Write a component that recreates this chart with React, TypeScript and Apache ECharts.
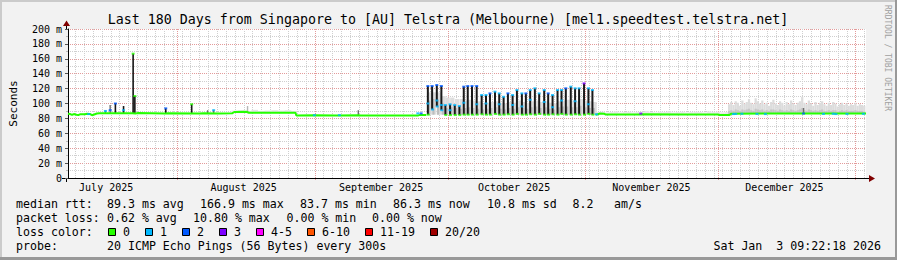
import React, { useEffect, useRef } from 'react';
import * as echarts from 'echarts';

const FONT = "'DejaVu Sans Mono', monospace";

// x axis: days since 2025-07-01 00:00 local time
const axisStartDay = 6.39;
const axisEndDay = 186.39;
const monthLabelDays = [15, 46, 77, 107, 138, 168];
const monthLabels = ['July 2025', 'August 2025', 'September 2025', 'October 2025', 'November 2025', 'December 2025'];
const monthStartDays = [31, 62, 92, 123, 153, 184];

const lossColors = ['#26ff00', '#00b8ff', '#0059ff', '#7e00ff', '#ff00ff', '#ff5500', '#ff0000', '#a00000'];
const lossLabels = ['0', '1', '2', '3', '4-5', '6-10', '11-19', '20/20'];

// median rtt (ms), loss 0 segments
const medianJulSep = [
  [6.39, 86.2], [6.9, 85.8], [7.3, 84.6], [7.7, 85.9], [8.3, 84.8], [8.7, 84.4], [9.2, 85.7], [10.2, 85.6],
  [10.7, 86.2], [11.3, 86.0], [11.8, 84.3], [12.3, 85.2], [12.9, 86.6], [13.5, 87.0], [20.9, 87.0], [21.6, 86.6],
  [22.2, 87.1], [28.3, 86.6], [29.0, 87.0], [36.0, 86.6], [37.0, 86.8], [40.5, 86.5], [43.4, 86.8], [43.9, 88.6],
  [46.6, 88.9], [47.2, 87.6], [57.7, 87.6], [57.9, 84.0], [62.0, 84.1], [67.0, 83.8], [72.0, 84.3], [72.4, 83.8],
  [80.0, 84.0], [85.4, 84.0], [85.8, 84.8], [86.3, 84.6], [87.2, 84.5],
];
const medianNovDec = [
  [125.4, 84.8], [125.9, 85.6], [126.4, 86.6], [127.3, 86.4], [127.6, 85.4], [135.4, 85.3], [135.8, 85.6],
  [145.0, 85.4], [153.0, 85.3], [153.4, 84.6], [155.6, 84.6], [156.0, 86.4], [165.0, 86.6], [175.0, 86.5], [186.39, 86.6],
];

// daily oscillation late Sep - late Oct
const octDays = [87.56, 88.52, 89.58, 90.61, 91.51, 92.57, 93.63, 94.67, 95.66, 96.56, 97.52, 98.58, 99.7, 100.67,
  101.57, 102.7, 103.66, 104.65, 105.62, 106.68, 107.65, 108.77, 109.67, 110.64, 111.7, 112.67, 113.8, 114.7,
  115.69, 116.81, 117.71, 118.68, 119.8, 120.77, 121.67, 122.79, 123.78, 124.68];
const octPeak = [123.5, 123.5, 124.8, 123.5, 98, 98.9, 98, 96.6, 122.6, 123.5, 123.5, 123.5, 111.4, 111.4, 113.6,
  115.9, 113.6, 109, 113.6, 111.4, 118.1, 113.6, 113.6, 118.1, 120.4, 113.6, 118.1, 113.6, 111.4, 118.1, 118.1,
  120.4, 122.6, 120.4, 120.4, 127, 120.4, 118.1];
const octLow = [85, 92, 96, 91, 84.5, 84.5, 84.5, 84.5, 85, 85, 85, 85, 85.5, 85, 85, 86, 85, 85, 85.5, 85, 86, 85,
  85, 85.5, 85, 86, 85, 85, 85.5, 85, 86, 85, 85, 85.5, 85, 85, 86, 85];
const octPeakLoss = [2, 2, 2, 2, 1, 1, 1, 1, 2, 2, 2, 2, 1, 1, 2, 1, 1, 1, 2, 1, 1, 1, 2, 1, 1, 1, 1, 2, 1, 1, 1, 2,
  1, 1, 1, 3, 1, 1];
// mid-stroke samples with 1 lost ping (0 = none)
const octMid = [100, 0, 104, 98, 0, 91, 0, 0, 101, 0, 0, 99, 0, 100, 0, 0, 99, 0, 0, 98, 0, 96, 0, 105, 0, 0, 102,
  0, 95, 0, 104, 0, 0, 103, 0, 0, 99, 0];
const octSmokeTop = [115, 115, 115, 110, 108, 108, 106, 106, 104, 105, 104, 103, 100, 101, 102, 103, 101, 100, 102,
  101, 104, 102, 101, 103, 104, 102, 103, 101, 100, 103, 104, 105, 104, 103, 106, 104, 103, 102];
const octSmokeCore = [104, 106, 105, 100, 94, 95, 94, 93, 94, 95, 94, 93, 92, 93, 94, 95, 93, 92, 94, 93, 95, 94,
  93, 95, 96, 94, 95, 93, 92, 95, 96, 96, 95, 95, 97, 95, 94, 94];

// isolated spikes: [day, low, high, shade]
const spikes = [
  [14.83, 86, 90.5, 1], [15.9, 87, 98, 1], [17.08, 87, 100.3, 0], [18.92, 87, 96.6, 0], [21.08, 87, 166.9, 0],
  [21.47, 87, 110, 0], [28.44, 87, 93.5, 0], [34.29, 87, 99, 0], [37.89, 87, 91, 1], [39.24, 87, 91.5, 1],
  [46.89, 88.5, 96.6, 2], [71.87, 84, 91, 1], [172.3, 87, 94, 1],
];

// loss-coloured median samples: [day, ms, loss class]
const lossMarks = [
  [11.05, 85.8, 1], [14.83, 90, 1], [15.9, 91, 2], [17.08, 100, 2], [18.92, 91, 1], [21.08, 166.9, 0],
  [21.47, 110, 0], [28.44, 93.5, 2], [34.29, 99, 0], [39.24, 91, 1], [61.97, 84.3, 1], [67.6, 84.3, 1],
  [85.3, 86.8, 1], [86.05, 86.8, 2], [125.6, 85.5, 1], [135.6, 86.5, 3], [156.5, 85.8, 1], [157.0, 86, 1],
  [158.4, 86.2, 1], [161.8, 86, 1], [163.7, 85.8, 1], [172.3, 86.5, 2], [176.8, 86, 1], [179.0, 86.2, 1],
  [179.6, 85.8, 1], [182.1, 86, 1], [185.8, 86.1, 1],
];

// smoke: [day, top]
const smokeAug = [[44, 90.5], [45.5, 91], [47, 90], [48.5, 91.5], [50, 90], [51.5, 90.5], [53, 91], [54.5, 90.5], [56, 91], [57.2, 90]];
const smokeNov = [[126, 88.5], [127, 89], [128, 88], [129, 88.5], [130, 89.5], [131, 88], [132, 88.5], [133, 89],
  [134, 88], [135, 88.5], [136, 89], [137, 90], [138, 88.5], [139, 88], [140, 89], [141, 88.5], [142, 89.5],
  [143, 88], [144, 88.5], [145, 89], [146, 88], [147, 88.5], [148, 89], [149, 88.5], [150, 88], [151, 89.5],
  [152, 88.5], [153, 89], [154, 88], [155, 88.5]];
// [day, top, core top]
const smokeDec = [
  [155.5, 99, 90], [156.0, 102, 91], [156.5, 98, 90], [157.0, 103, 92], [157.5, 101, 91], [158.0, 97, 90],
  [158.5, 104, 92], [159.0, 100, 91], [159.5, 102, 92], [160.0, 106, 93], [160.5, 101, 91], [161.0, 99, 90],
  [161.5, 107, 93], [162.0, 103, 92], [162.5, 100, 91], [163.0, 104, 92], [163.5, 99, 90], [164.0, 101, 91],
  [164.5, 97, 90], [165.0, 102, 92], [165.5, 105, 92], [166.0, 100, 91], [166.5, 98, 90], [167.0, 103, 92],
  [167.5, 101, 91], [168.0, 97, 90], [168.5, 102, 91], [169.0, 99, 90], [169.5, 104, 92], [170.0, 100, 91],
  [170.5, 98, 90], [171.0, 101, 91], [171.5, 103, 92], [172.0, 109, 94], [172.5, 101, 91], [173.0, 99, 90],
  [173.5, 104, 92], [174.0, 100, 91], [174.5, 97, 90], [175.0, 102, 91], [175.5, 98, 90], [176.0, 101, 91],
  [176.5, 103, 92], [177.0, 99, 90], [177.5, 97, 90], [178.0, 101, 91], [178.5, 98, 90], [179.0, 102, 91],
  [179.5, 100, 91], [180.0, 96, 89], [180.5, 99, 90], [181.0, 101, 91], [181.5, 98, 90], [182.0, 100, 91],
  [182.5, 97, 90], [183.0, 99, 90], [183.5, 98, 90], [184.0, 101, 91], [184.5, 97, 90], [185.0, 99, 90],
  [185.5, 98, 90], [186.0, 97, 89],
];

const MAJOR = '#e39a9a';
const MINOR = '#cfcfcf';
const smokeColors = ['#e4e4e4', '#dcdcdc', '#c6c6c6', '#dedede', '#e8e8e8', '#bdbdbd'];
const strokeColors = ['#161616', '#6e6e6e', '#b5b5b5', '#1a1a1a'];
const strokeWidths = [1.6, 1.4, 1.4, 2];

function buildOption() {
  const vGrid: number[][] = [];
  for (let d = 8; d <= 186; d += 2) {
    if (monthStartDays.indexOf(d) < 0) vGrid.push([d, 0]);
  }
  monthStartDays.forEach((d) => vGrid.push([d, 1]));

  const smokeData: number[][] = [];
  smokeAug.forEach(([d, t]) => smokeData.push([d, 87, t, 0, 1.5]));
  smokeNov.forEach(([d, t]) => smokeData.push([d, 85.5, t, 4, 1]));
  smokeDec.forEach(([d, t]) => smokeData.push([d, 86, t, 1, 0.5]));
  smokeDec.forEach(([d, , c]) => smokeData.push([d, 86, c, 2, 0.5]));
  octDays.forEach((d, i) => smokeData.push([d + 0.5, 85, octSmokeTop[i], 3, 0.95]));
  octDays.forEach((d, i) => smokeData.push([d + 0.3, 85, octSmokeCore[i], 5, 0.5]));

  const strokeData: number[][] = spikes.map((s) => s.slice());
  octDays.forEach((d, i) => strokeData.push([d, octLow[i], octPeak[i], 3]));

  const marks: number[][] = lossMarks.map((m) => m.slice());
  octDays.forEach((d, i) => {
    if (octMid[i] > 0) marks.push([d, octMid[i], 1]);
    marks.push([d + 0.1, octLow[i], i < 4 && i > 0 ? 1 : 0]);
    marks.push([d, octPeak[i], octPeakLoss[i]]);
  });

  const renderGrid = (params: any, api: any) => {
    const d = api.value(0);
    const kind = api.value(1);
    const top = api.coord([d, 200]);
    const bot = api.coord([d, 0]);
    const x = Math.round(bot[0]) + 0.5;
    return {
      type: 'line',
      silent: true,
      shape: { x1: x, y1: top[1], x2: x, y2: bot[1] + (kind === 1 ? 3 : 0) },
      style: { stroke: kind === 1 ? MAJOR : MINOR, lineWidth: 1, lineDash: [1, 1] },
    };
  };
  const renderSmoke = (params: any, api: any) => {
    const d = api.value(0);
    const a = api.coord([d, api.value(2)]);
    const b = api.coord([d, api.value(1)]);
    const w = api.size([api.value(4), 0])[0];
    return {
      type: 'rect',
      silent: true,
      shape: { x: a[0] - w / 2, y: a[1], width: w, height: b[1] - a[1] },
      style: { fill: smokeColors[api.value(3)] },
    };
  };
  const renderStroke = (params: any, api: any) => {
    const d = api.value(0);
    const s = api.value(3);
    const a = api.coord([d, api.value(2)]);
    const b = api.coord([d, api.value(1)]);
    const w = strokeWidths[s];
    return {
      type: 'rect',
      silent: true,
      shape: { x: a[0] - w / 2, y: a[1], width: w, height: b[1] - a[1] },
      style: { fill: strokeColors[s] },
    };
  };

  const txt = (x: number, y: number, text: string, size = 11.6, align = 'left', extra: any = {}) => ({
    type: 'text',
    x,
    y,
    silent: true,
    ...extra,
    style: {
      text,
      fill: extra.fill || '#000',
      font: `${size}px 'DejaVu Sans Mono', monospace`,
      align,
      textAlign: align,
      verticalAlign: 'middle',
      textVerticalAlign: 'middle',
    },
  });

  const boxX = [108, 145, 182, 219, 256, 307, 365, 430];
  const graphics: any[] = [
    { type: 'rect', silent: true, shape: { x: 0, y: 0, width: 897, height: 2 }, style: { fill: '#cbcbcb' } },
    { type: 'rect', silent: true, shape: { x: 0, y: 0, width: 2, height: 260 }, style: { fill: '#cbcbcb' } },
    { type: 'rect', silent: true, shape: { x: 0, y: 257, width: 897, height: 3 }, style: { fill: '#999999' } },
    { type: 'rect', silent: true, shape: { x: 895, y: 0, width: 2, height: 260 }, style: { fill: '#999999' } },
    { type: 'line', silent: true, shape: { x1: 66.5, y1: 29, x2: 66.5, y2: 24 }, style: { stroke: '#000', lineWidth: 1 } },
    { type: 'line', silent: true, shape: { x1: 66.5, y1: 178, x2: 66.5, y2: 182 }, style: { stroke: '#000', lineWidth: 1 } },
    { type: 'line', silent: true, shape: { x1: 62, y1: 178.5, x2: 66, y2: 178.5 }, style: { stroke: '#000', lineWidth: 1 } },
    { type: 'line', silent: true, shape: { x1: 866, y1: 178.5, x2: 870, y2: 178.5 }, style: { stroke: '#000', lineWidth: 1 } },
    { type: 'polygon', silent: true, shape: { points: [[63, 26], [70, 26], [66.5, 20.5]] }, style: { fill: '#800000' } },
    { type: 'polygon', silent: true, shape: { points: [[869, 175], [869, 182], [875, 178.5]] }, style: { fill: '#800000' } },
    txt(448, 19.5, 'Last 180 Days from Singapore to [AU] Telstra (Melbourne) [mel1.speedtest.telstra.net]', 13.3, 'center'),
    txt(887.5, 5, 'RRDTOOL / TOBI OETIKER', 8, 'left', { rotation: -Math.PI / 2, fill: '#a0a0a0' }),
    txt(16, 204, 'median rtt:'),
    txt(107, 204, '89.3 ms avg'),
    txt(200, 204, '166.9 ms max'),
    txt(300, 204, '83.7 ms min'),
    txt(393, 204, '86.3 ms now'),
    txt(487, 204, '10.8 ms sd'),
    txt(572.5, 204, '8.2'),
    txt(614, 204, 'am/s'),
    txt(16, 218, 'packet loss:'),
    txt(107, 218, '0.62 % avg'),
    txt(193, 218, '10.80 % max'),
    txt(286.5, 218, '0.00 % min'),
    txt(372, 218, '0.00 % now'),
    txt(16, 232, 'loss color:'),
    txt(16, 246, 'probe:'),
    txt(107, 246, '20 ICMP Echo Pings (56 Bytes) every 300s'),
    txt(881, 246, 'Sat Jan  3 09:22:18 2026', 11.6, 'right'),
  ];
  lossLabels.forEach((lab, i) => {
    graphics.push({
      type: 'rect',
      silent: true,
      shape: { x: boxX[i] + 0.5, y: 228.5, width: 7, height: 7 },
      style: { fill: lossColors[i], stroke: '#000', lineWidth: 1 },
    });
    graphics.push(txt(boxX[i] + 15, 232, lab));
  });

  return {
    animation: false,
    backgroundColor: '#f2f2f2',
    textStyle: { fontFamily: FONT },
    grid: { left: 66, top: 29, width: 800, height: 149, show: true, backgroundColor: '#ffffff', borderWidth: 0 },
    xAxis: {
      type: 'value',
      min: axisStartDay,
      max: axisEndDay,
      axisLine: { show: true, onZero: false, lineStyle: { color: '#000', width: 1 } },
      axisTick: { show: false },
      splitLine: { show: false },
      axisLabel: {
        show: true,
        customValues: monthLabelDays,
        formatter: (v: number) => {
          const i = monthLabelDays.indexOf(Math.round(v));
          return i >= 0 ? monthLabels[i] : '';
        },
        color: '#000',
        fontSize: 10,
        fontFamily: FONT,
        margin: 4,
      },
    },
    yAxis: {
      type: 'value',
      min: 0,
      max: 200,
      interval: 20,
      name: 'Seconds',
      nameLocation: 'middle',
      nameGap: 49,
      nameRotate: 90,
      nameTextStyle: { fontSize: 11, fontFamily: FONT, color: '#000' },
      axisLine: { show: true, lineStyle: { color: '#000', width: 1 } },
      axisTick: { show: true, length: 3, lineStyle: { color: '#555' } },
      minorTick: { show: true, splitNumber: 2, length: 2, lineStyle: { color: '#bbb' } },
      splitLine: { show: true, lineStyle: { color: MAJOR, type: [1, 1], width: 1 } },
      minorSplitLine: { show: true, lineStyle: { color: MINOR, type: [1, 1], width: 1 } },
      axisLabel: {
        formatter: (v: number) => (v === 0 ? '0' : `${v} m`),
        color: '#000',
        fontSize: 10,
        fontFamily: FONT,
        margin: 6,
      },
    },
    graphic: graphics,
    series: [
      { type: 'custom', name: 'grid', z: 1, silent: true, renderItem: renderGrid, data: vGrid, encode: { x: 0, y: 1 } },
      { type: 'custom', name: 'smoke', z: 2, silent: true, clip: true, renderItem: renderSmoke, data: smokeData, encode: { x: 0, y: [1, 2] } },
      { type: 'custom', name: 'spread', z: 3, silent: true, clip: true, renderItem: renderStroke, data: strokeData, encode: { x: 0, y: [1, 2] } },
      { type: 'line', name: 'median', z: 4, silent: true, showSymbol: false, data: medianJulSep, lineStyle: { color: lossColors[0], width: 2 } },
      { type: 'line', name: 'median2', z: 4, silent: true, showSymbol: false, data: medianNovDec, lineStyle: { color: lossColors[0], width: 2 } },
      {
        type: 'scatter',
        name: 'loss',
        z: 5,
        silent: true,
        symbol: 'rect',
        symbolSize: [3, 2],
        data: marks,
        itemStyle: { color: (p: any) => lossColors[p.data[2]] },
      },
    ],
  };
}

export default function App() {
  const ref = useRef<HTMLDivElement>(null);
  useEffect(() => {
    document.body.style.margin = '0';
    const chart = echarts.init(ref.current as HTMLDivElement, undefined, { renderer: 'svg', width: 897, height: 260 });
    chart.setOption(buildOption() as any);
    return () => chart.dispose();
  }, []);
  return <div ref={ref} style={{ position: 'absolute', left: 0, top: 0, width: 897, height: 260 }} />;
}
